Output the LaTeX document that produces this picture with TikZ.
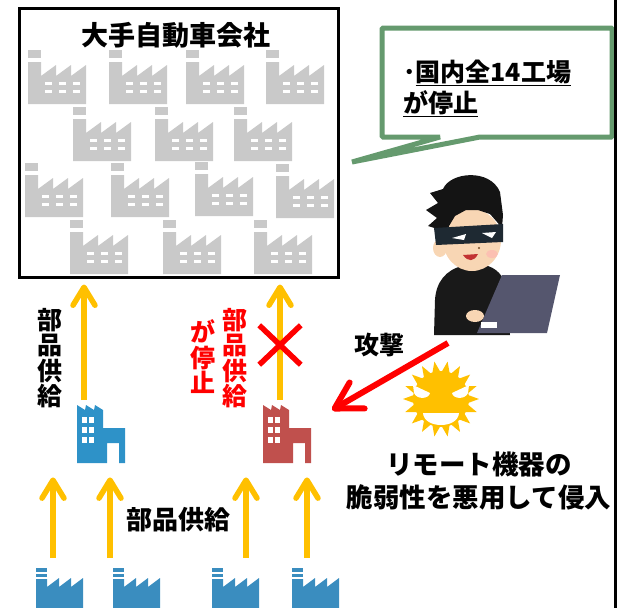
\documentclass[tikz,border=0pt]{standalone}
\usepackage{fontspec}
\newfontfamily\jp{Noto Sans CJK JP}
\usetikzlibrary{arrows.meta,shapes.misc}
\definecolor{cgrayf}{HTML}{C9C9C9}
\definecolor{cfeed}{HTML}{3A8DBF}
\definecolor{cmid}{HTML}{2E92C8}
\definecolor{cdown}{HTML}{C0504D}
\definecolor{cyellow}{HTML}{FFC000}
\definecolor{cred}{HTML}{FF0000}
\definecolor{cgreen}{HTML}{659A6E}
\definecolor{cskin}{HTML}{F8D6B4}
\definecolor{cmask}{HTML}{1E2932}
\definecolor{clid}{HTML}{55566E}
\tikzset{
  jtxt/.style={font=\jp\bfseries\fontsize{25}{25.5}\selectfont,inner sep=0pt},
  supply/.style={cyellow,line width=5.5pt,-{Straight Barb[length=18pt,width=22pt,round]}},
  attack/.style={cred,line width=6pt,-{Straight Barb[length=26pt,width=30pt,round]}},
  stopmark/.style={cross out,draw=cred,line width=5.5pt,minimum width=36pt,minimum height=34pt,inner sep=0pt},
  iconbox/.style={inner sep=0pt,anchor=north west},
  % gray plant inside the company box, origin at its top-left corner
  grayplant/.pic={
    \fill[cgrayf] (0,0) rectangle (13,8);
    \fill[cgrayf] (0,12) -- (13,12) -- (13,26) -- (28,15) -- (28,26) -- (43,15) -- (43,26) -- (58,15) -- (58,54) -- (0,54) -- cycle;
    \foreach \wx in {17,31,45} {
      \fill[white] (\wx,32) rectangle ++(7,3);
      \fill[white] (\wx,40) rectangle ++(7,3);
    }
  },
  % small supplier at the bottom
  feeder/.pic={
    \fill[cfeed] (0,0) rectangle (11,4);
    \fill[cfeed] (0,6) rectangle (11,9);
    \fill[cfeed] (0,11) -- (11,11) -- (11,19) -- (23,10) -- (23,19) -- (35,10) -- (35,19) -- (47,10) -- (47,42) -- (0,42) -- cycle;
    \node[iconbox,minimum width=47pt,minimum height=40pt] (-box) at (0,0) {};
  },
  % first tier supplier, colour given as argument
  plant/.pic={
    \fill[#1] (0,58) -- (0,0) -- (8,5) -- (9,0) -- (17,5) -- (18,0) -- (26,5) -- (26,23) -- (48,23) -- (48,58)
      -- (42,58) -- (42,38) -- (30,38) -- (30,58) -- cycle;
    \foreach \wy in {12,22,32}
      \foreach \wx in {5,12}
        \fill[white] (\wx,\wy) rectangle ++(5,6);
    \node[iconbox,minimum width=48pt,minimum height=58pt] (-box) at (0,0) {};
  },
  virus/.pic={
    \fill[cyellow] (0:38) \foreach \a in {0,20,...,340} {-- (\a:38) -- (\a+10:26)} -- cycle;
    \fill[cyellow] (0,0) circle (28);
    \fill[white] (-28,-14) -- (-11,-6) .. controls (-12,0) and (-24,1) .. (-27,-6) -- cycle;
    \fill[white] (28,-14) -- (11,-6) .. controls (12,0) and (24,1) .. (27,-6) -- cycle;
    \fill[white] (-18,14) -- (18,14) .. controls (17,30) and (-17,30) .. (-18,14) -- cycle;
  }
}

\begin{document}
\begin{tikzpicture}[x=1pt,y=-1pt]
\useasboundingbox (0,0) rectangle (633,608);

% ===== car maker with its 14 plants =====
\node[draw,line width=3pt,minimum width=319pt,minimum height=269pt,inner sep=0pt] (corp) at (178.5,142.5) {};
\foreach \px/\py in {28/50,109/50,186/50,266/50,73/107,155/107,234/107,
                     25/163,111/163,195/162,276/164,70/220,163/220,254/220}
  \pic at (\px,\py) {grayplant};
\node[jtxt,font=\jp\bfseries\fontsize{27}{28}\selectfont] (corp-title) at (176,35) {大手自動車会社};

% ===== suppliers =====
\pic (mf1) at (77,405) {plant=cmid};
\pic (mf2) at (263,405) {plant=cdown};
\pic (bf1) at (36,568) {feeder};
\pic (bf2) at (113,568) {feeder};
\pic (bf3) at (212,568) {feeder};
\pic (bf4) at (292,568) {feeder};

% parts flow
\coordinate (s1) at (53,558);
\coordinate (s2) at (110,558);
\coordinate (s3) at (246,558);
\coordinate (s4) at (307,558);
\draw[supply,shorten >=14pt] (s1) -- (s1 |- mf1-box.south);
\draw[supply,shorten >=14pt] (s2) -- (s2 |- mf1-box.south);
\draw[supply,shorten >=14pt] (s3) -- (s3 |- mf2-box.south);
\draw[supply,shorten >=14pt] (s4) -- (s4 |- mf2-box.south);
\coordinate (u1) at (84,400);
\coordinate (u2) at (280,400);
\draw[supply,shorten >=6pt] (u1) -- (u1 |- corp.south);
\draw[supply,shorten >=6pt] (u2) -- (u2 |- corp.south);
\node[stopmark] (halt) at (280,345) {};

\node[jtxt,align=center] (lbl-ok) at (50,358) {部\\品\\供\\給};
\node[jtxt,align=center,text=cred] (lbl-ng) at (235,358) {部\\品\\供\\給};
\node[jtxt,align=center,text=cred] (lbl-stop) at (203,357) {が\\停\\止};
\node[jtxt,font=\jp\bfseries\fontsize{26}{27}\selectfont] (lbl-sub) at (178,520) {部品供給};

% ===== callout =====
\draw[cgreen,line width=5pt,fill=white,line join=bevel]
  (382,28) -- (612,28) -- (612,137) -- (480,137) -- (352,162) -- (440,137) -- (382,137) -- cycle;
\node[jtxt,align=left,anchor=west,font=\jp\bfseries\fontsize{25}{31}\selectfont] (note) at (403,88)
  {･\underline{国内全14工場}\\\underline{が停止}};
\draw[line width=3pt] (615,0) -- (615,608);

% ===== attacker =====
\fill[black!90] (434,335) -- (435,300) .. controls (436,282) and (446,270) .. (462,266) -- (488,266)
  .. controls (500,270) and (506,280) .. (508,295) -- (510,335) -- cycle;
\fill[cskin] (472,240) ellipse [x radius=29, y radius=31];
\fill[cskin] (440,248) ellipse [x radius=7, y radius=9];
\fill[red!30,opacity=.6] (492,254) ellipse [x radius=6, y radius=4];
\fill[black!92] (445,244) -- (436,238) -- (441,230) -- (428,226) -- (437,218) -- (426,210) -- (438,203)
  -- (430,193) -- (443,189) .. controls (450,172) and (490,168) .. (500,192)
  -- (503,215) -- (502,228) -- (497,222) -- (490,214) -- (478,210) -- (466,210) -- (455,216)
  -- (449,226) -- cycle;
\fill[cmask] (434,228) -- (503,224) -- (503,242) -- (436,245) -- cycle;
\fill[white] (452,238) -- (466,234) -- (464,240) -- cycle;
\fill[white] (482,233) -- (496,232) -- (492,238) -- cycle;
\fill[brown!60!black] (479,248) circle (1.2);
\fill[red!70!black!80] (463,255) .. controls (468,262) and (474,262) .. (478,254) -- cycle;
\fill[clid] (502,275) -- (560,275) -- (547,333) -- (477,333) -- cycle;
\fill[white] (481,322) rectangle (497,328);
\fill[cskin] (475,316) ellipse [x radius=9, y radius=6];
\coordinate (atk) at (448,343);
\coordinate (hit) at (332,410);
\draw[attack] (atk) -- (hit);
\node[jtxt] (lbl-atk) at (379,345) {攻撃};

\pic (virus) at (441,399) {virus};
\node[jtxt,align=center,font=\jp\bfseries\fontsize{26.5}{33}\selectfont] (vuln) at (479,481)
  {リモート機器の\\脆弱性を悪用して侵入};

\end{tikzpicture}
\end{document}
